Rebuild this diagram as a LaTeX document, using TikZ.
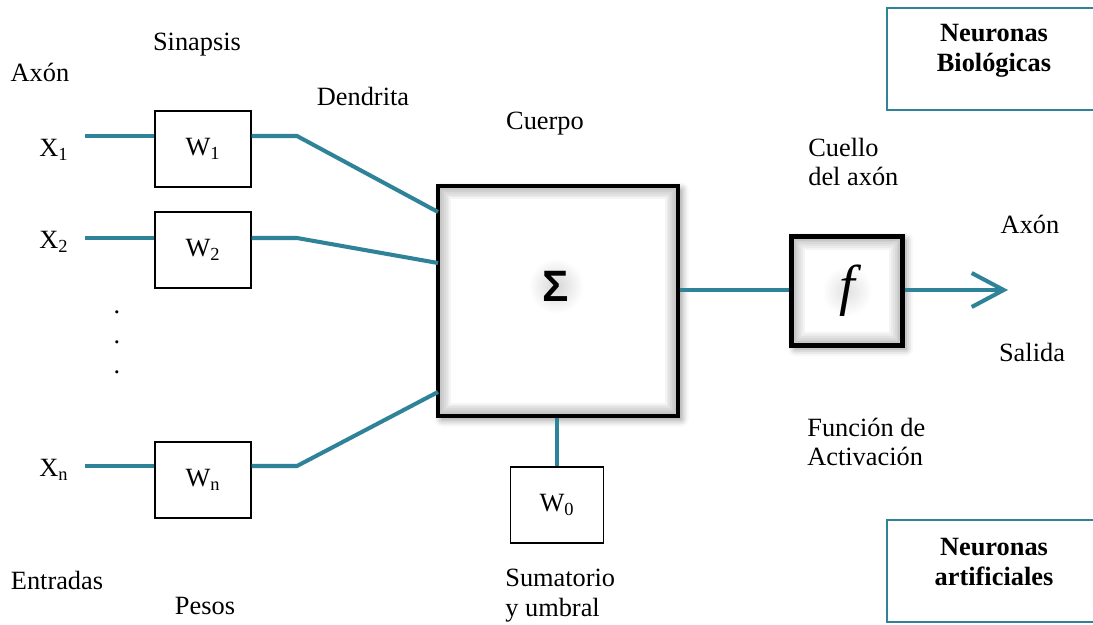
\documentclass[tikz,border=0pt]{standalone}
\usepackage{fontspec}
\setmainfont{Liberation Serif}
\newfontfamily\sigmafont{Liberation Sans}
\usetikzlibrary{arrows.meta,shadows.blur}
\definecolor{axon}{RGB}{46,131,153}

\begin{document}
\begin{tikzpicture}[x=0.02cm, y=-0.02cm,
		txt/.style={font=\fontsize{15}{17}\selectfont, inner sep=0pt, align=left},
		peso/.style={draw=black, line width=0.8pt, fill=white, minimum width=1.92cm, minimum height=1.52cm, font=\fontsize{15}{17}\selectfont},
		bloque/.style={draw=black, line width=2.8pt, fill=white, blur shadow={shadow xshift=2pt, shadow yshift=-2pt, shadow blur radius=4pt, shadow opacity=45}},
		leyenda/.style={draw=axon, line width=1.1pt, minimum width=4.2cm, minimum height=2.04cm},
		negrita/.style={font=\fontsize{15}{17}\selectfont\bfseries, align=center, inner sep=0pt},
		enlace/.style={draw=axon, line width=2.3pt}]
	\useasboundingbox (0,0) rectangle (1093,625);

	% entradas y pesos
	\node[txt](x1) at (54,150){X\textsubscript{1}};
	\node[txt](x2) at (54,242){X\textsubscript{2}};
	\node[txt](xn) at (54,470){X\textsubscript{n}};
	\node[txt](dots) at (117,342){.\\.\\.};
	\node[peso](w1) at (203,149){W\textsubscript{1}};
	\node[peso](w2) at (203,250){W\textsubscript{2}};
	\node[peso](wn) at (203,480){W\textsubscript{n}};

	% cuerpo, umbral y activacion
	\node[bloque, minimum width=4.8cm, minimum height=4.6cm](sum) at (558,301){};
	\node[bloque, minimum width=2.22cm, minimum height=2.18cm](act) at (847,291){};
	% sombra interior de los bloques
	\foreach \b in {sum,act}{
		\foreach \i in {0,...,5}{
			\draw[black, opacity=0.22-0.035*\i, line width=1pt]
				([shift={(3.3pt+\i*1pt,-3.3pt-\i*1pt)}]\b.north west) rectangle
				([shift={(-3.3pt-\i*1pt,3.3pt+\i*1pt)}]\b.south east);
		}
	}
	\shade[inner color=black!16, outer color=white] (556,286) circle (0.55cm);
	\node[font=\fontsize{25}{27}\sigmafont\bfseries](sigma) at (556,286){Σ};
	\shade[inner color=black!12, outer color=white] (act.center) circle (0.5cm);
	\node[font=\fontsize{32}{34}\selectfont\itshape](f) at (act.center){f};
	\node[peso, minimum width=1.86cm](w0) at (557,505){W\textsubscript{0}};

	% extremos libres
	\coordinate (a1) at (85,136);
	\coordinate (a2) at (85,238);
	\coordinate (an) at (85,466);
	\coordinate (d1) at (297,136);
	\coordinate (d2) at (297,238);
	\coordinate (dn) at (297,466);
	\coordinate (s1) at (438,212);
	\coordinate (s2) at (438,263);
	\coordinate (sn) at (438,392);
	\coordinate (out) at (1008,290);

	\draw[enlace] (a1) -- (a1 -| w1.west);
	\draw[enlace] (a2) -- (a2 -| w2.west);
	\draw[enlace] (an) -- (an -| wn.west);
	\draw[enlace] (d1 -| w1.east) -- (d1) -- (s1);
	\draw[enlace] (d2 -| w2.east) -- (d2) -- (s2);
	\draw[enlace] (dn -| wn.east) -- (dn) -- (sn);
	\draw[enlace] (sum.south -| w0.north) -- (w0.north);
	\draw[enlace] (sum.east |- 0,290) -- (act.west |- 0,290);
	\draw[enlace, -{Straight Barb[length=6.4mm, width=6.8mm, line width=2.3pt]}] (act.east |- out) -- (out);

	% rotulos
	\node[txt](axonin) at (40,72){Axón};
	\node[txt](sinapsis) at (197,45){Sinapsis};
	\node[txt](dendrita) at (363,96){Dendrita};
	\node[txt](cuerpo) at (545,124){Cuerpo};
	\node[txt, anchor=west](cuello) at (808,162){Cuello\\del axón};
	\node[txt](axonout) at (1030,224){Axón};
	\node[txt](salida) at (1032,352){Salida};
	\node[txt, anchor=west](funcion) at (807,442){Función de\\Activación};
	\node[txt](entradas) at (57,580){Entradas};
	\node[txt](pesos) at (205,606){Pesos};
	\node[txt, anchor=west](sumatorio) at (505,596){Sumatorio\\y umbral};

	\node[leyenda](bio) at (992,59){};
	\node[negrita](biotxt) at (994,51){Neuronas\\Biológicas};
	\node[leyenda](art) at (992,571){};
	\node[negrita](arttxt) at (994,562){Neuronas\\artificiales};
\end{tikzpicture}
\end{document}
